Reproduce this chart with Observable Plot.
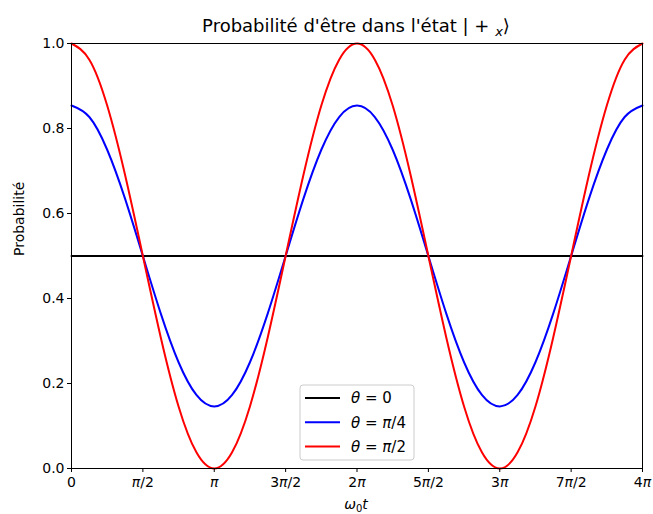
<!DOCTYPE html>
<html>
<head>
<meta charset="utf-8">
<script src="https://cdn.jsdelivr.net/npm/d3@7"></script>
<script src="https://cdn.jsdelivr.net/npm/@observablehq/plot@0.6"></script>
<style>
  body { margin: 0; background: #fff; }
  #chart { position: relative; width: 653px; height: 514px; }
</style>
</head>
<body>
<div id="chart"></div>
<script>
// x positions in units of π (ω0 t / π)
const tPi = [0, 0.125, 0.25, 0.375, 0.5, 0.625, 0.75, 0.875, 1, 1.125, 1.25, 1.375, 1.5, 1.625, 1.75, 1.875, 2,
             2.125, 2.25, 2.375, 2.5, 2.625, 2.75, 2.875, 3, 3.125, 3.25, 3.375, 3.5, 3.625, 3.75, 3.875, 4];
const theta0 = [0.5, 0.5, 0.5, 0.5, 0.5, 0.5, 0.5, 0.5, 0.5, 0.5, 0.5, 0.5, 0.5, 0.5, 0.5, 0.5, 0.5,
                0.5, 0.5, 0.5, 0.5, 0.5, 0.5, 0.5, 0.5, 0.5, 0.5, 0.5, 0.5, 0.5, 0.5, 0.5, 0.5];
const thetaPi4 = [0.854, 0.827, 0.75, 0.635, 0.5, 0.365, 0.25, 0.173, 0.146, 0.173, 0.25, 0.365, 0.5, 0.635, 0.75, 0.827, 0.854,
                  0.827, 0.75, 0.635, 0.5, 0.365, 0.25, 0.173, 0.146, 0.173, 0.25, 0.365, 0.5, 0.635, 0.75, 0.827, 0.854];
const thetaPi2 = [1.0, 0.962, 0.854, 0.691, 0.5, 0.309, 0.146, 0.038, 0.0, 0.038, 0.146, 0.309, 0.5, 0.691, 0.854, 0.962, 1.0,
                  0.962, 0.854, 0.691, 0.5, 0.309, 0.146, 0.038, 0.0, 0.038, 0.146, 0.309, 0.5, 0.691, 0.854, 0.962, 1.0];
const seriesNames = ["θ = 0", "θ = π/4", "θ = π/2"];
const seriesValueLabels = ["0", "π/4", "π/2"];
const seriesColors = ["black", "blue", "red"];
const xTickValues = [0, 0.5, 1, 1.5, 2, 2.5, 3, 3.5, 4];
const xTickLabels = ["0", "π/2", "π", "3π/2", "2π", "5π/2", "3π", "7π/2", "4π"];
const yTickValues = [0, 0.2, 0.4, 0.6, 0.8, 1.0];
const yTickLabels = ["0.0", "0.2", "0.4", "0.6", "0.8", "1.0"];
const titleText = "Probabilité d'être dans l'état ";

const rows = [];
[theta0, thetaPi4, thetaPi2].forEach((vals, s) => {
  vals.forEach((v, i) => rows.push({t: tPi[i], p: v, s: seriesNames[s]}));
});

const font = "DejaVu Sans, sans-serif";
const fmtX = (d) => xTickLabels[xTickValues.findIndex(v => Math.abs(v - d) < 1e-9)];
const fmtY = (d) => yTickLabels[yTickValues.findIndex(v => Math.abs(v - d) < 1e-9)];
const plot = Plot.plot({
  width: 653,
  height: 514,
  marginLeft: 71,
  marginRight: 11,
  marginTop: 43,
  marginBottom: 46,
  style: {fontFamily: font, fontSize: "14px", background: "white", color: "black"},
  x: {domain: [0, 4], label: null},
  y: {domain: [0, 1], label: null},
  color: {domain: seriesNames, range: seriesColors},
  marks: [
    Plot.line(rows, {x: "t", y: "p", z: "s", stroke: "s", strokeWidth: 2, curve: "natural"}),
    Plot.frame({stroke: "black", strokeWidth: 1}),
    Plot.axisX({ticks: xTickValues, tickFormat: fmtX, tickSize: 4, tickPadding: 5, label: null, fontSize: 14}),
    Plot.axisY({ticks: yTickValues, tickFormat: fmtY, tickSize: 4, tickPadding: 3, label: null, fontSize: 14}),
    Plot.text(["Probabilité"], {frameAnchor: "left", dx: -52, rotate: -90, fontSize: 14})
  ]
});
document.getElementById("chart").appendChild(plot);

const svg = d3.select(plot);
// italic π in tick labels (mathtext style)
svg.selectAll("text").each(function() {
  const el = d3.select(this);
  if (el.selectAll("tspan").size() > 0) return;
  const s = el.text();
  if (!s.includes("π") || s.includes("Prob")) return;
  el.text(null);
  s.split(/(π)/).filter(p => p.length).forEach(p => {
    const sp = el.append("tspan").text(p);
    if (p === "π") sp.attr("font-style", "italic");
  });
});

// Title
const tt = svg.append("text").attr("x", 356).attr("y", 32).attr("text-anchor", "middle")
  .attr("font-family", font).attr("font-size", 18).attr("fill", "black");
tt.append("tspan").text(titleText + "| + ");
tt.append("tspan").attr("font-style", "italic").attr("font-size", 13).attr("dy", 4).text("x");
tt.append("tspan").attr("dy", -4).text("⟩");

// X label ω0 t
const xl = svg.append("text").attr("x", 356).attr("y", 509).attr("text-anchor", "middle")
  .attr("font-family", font).attr("font-size", 14).attr("fill", "black");
xl.append("tspan").attr("font-style", "italic").text("ω");
xl.append("tspan").attr("font-size", 10).attr("dy", 3).text("0");
xl.append("tspan").attr("font-style", "italic").attr("dy", -3).text("t");

// Legend box (inside plot, bottom center)
const lg = svg.append("g").attr("transform", "translate(300,385)");
lg.append("rect").attr("width", 114).attr("height", 75).attr("rx", 3)
  .attr("fill", "white").attr("fill-opacity", 0.8).attr("stroke", "#cccccc");
seriesNames.forEach((name, i) => {
  const y = 13 + i * 24.3;
  lg.append("line").attr("x1", 5).attr("x2", 40).attr("y1", y).attr("y2", y)
    .attr("stroke", seriesColors[i]).attr("stroke-width", 2);
  const tx = lg.append("text").attr("x", 51).attr("y", y).attr("dy", "0.36em")
    .attr("text-anchor", "start").attr("font-family", font).attr("font-size", 15).attr("fill", "black");
  tx.append("tspan").attr("font-style", "italic").text("θ");
  const rest = " = " + seriesValueLabels[i];
  rest.split(/(π)/).filter(p => p.length).forEach(p => {
    const sp = tx.append("tspan").text(p);
    if (p === "π") sp.attr("font-style", "italic");
  });
});
</script>
</body>
</html>
